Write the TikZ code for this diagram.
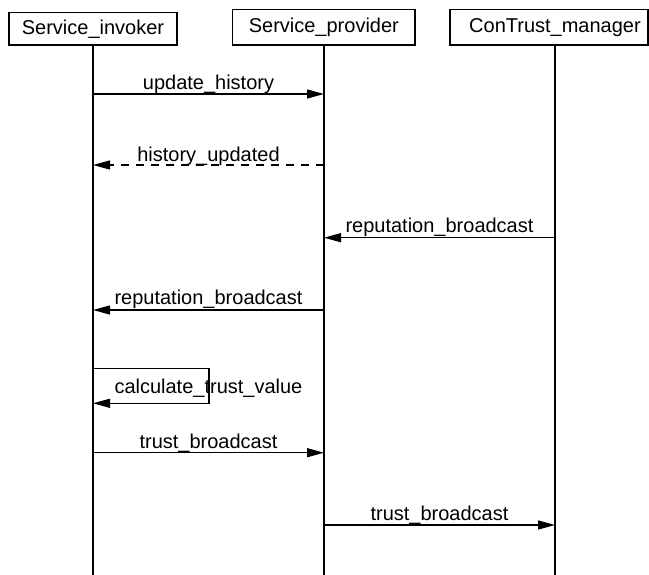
\documentclass[tikz,border=0pt]{standalone}
\usepackage{fontspec}
\setmainfont{Liberation Sans}
\usetikzlibrary{arrows.meta}
\begin{document}
\begin{tikzpicture}[x=1pt,y=-1pt,
  every node/.style={font=\fontsize{20}{24}\selectfont},
  actor/.style={draw=black, line width=1.3pt, fill=white, inner sep=0pt},
  lifeline/.style={line width=1.3pt},
  msg/.style={line width=1.3pt, -{Triangle[length=17pt,width=9pt]}},
  reply/.style={msg, dash pattern=on 8pt off 7pt},
  lbl/.style={anchor=base, inner sep=0pt}]
\useasboundingbox (0,0) rectangle (649,575);
% actors
\node[actor, minimum width=168pt, minimum height=32.3pt] (si) at (93,28.85) {Service\_invoker};
\node[actor, minimum width=182.3pt, minimum height=35.7pt] (sp) at (323.85,27.15) {Service\_provider};
\node[actor, minimum width=198pt, minimum height=35.7pt] (cm) at (549,27.15) {\hspace{12pt}ConTrust\_manager};
% lifeline ends
\coordinate (siT) at (93,45);
\coordinate (spT) at (324,45);
\coordinate (cmT) at (555,45);
\coordinate (siB) at (93,575);
\coordinate (spB) at (324,575);
\coordinate (cmB) at (555,575);
\draw[lifeline] (siT) -- (siB);
\draw[lifeline] (spT) -- (spB);
\draw[lifeline] (cmT) -- (cmB);
% message anchors
\coordinate (si1) at (93,94);    \coordinate (sp1) at (324,94);
\coordinate (si2) at (93,165);   \coordinate (sp2) at (324,165);
\coordinate (sp3) at (324,237.7); \coordinate (cm3) at (555,237.7);
\coordinate (si4) at (93,310);   \coordinate (sp4) at (324,310);
\coordinate (si5a) at (93,368.3); \coordinate (lp) at (209,368.3); \coordinate (si5b) at (93,403.3);
\coordinate (si6) at (93,452.7); \coordinate (sp6) at (324,452.7);
\coordinate (sp7) at (324,525);  \coordinate (cm7) at (555,525);
% messages
\draw[msg] (si1) -- (sp1);
\node[lbl] (l1) at (208.5,89.5) {update\_history};
\draw[reply] (sp2) -- (si2);
\node[lbl] (l2) at (208.5,161.7) {history\_updated};
\draw[msg] (cm3) -- (sp3);
\node[lbl] (l3) at (439.5,233) {reputation\_broadcast};
\draw[msg] (sp4) -- (si4);
\node[lbl] (l4) at (208.5,305) {reputation\_broadcast};
\draw[msg] (si5a) -- (lp) |- (si5b);
\node[lbl, anchor=base west] (l5) at (114.3,393.3) {calculate\_trust\_value};
\draw[msg] (si6) -- (sp6);
\node[lbl] (l6) at (208.5,448.3) {trust\_broadcast};
\draw[msg] (sp7) -- (cm7);
\node[lbl] (l7) at (439.5,520.7) {trust\_broadcast};
\end{tikzpicture}
\end{document}
